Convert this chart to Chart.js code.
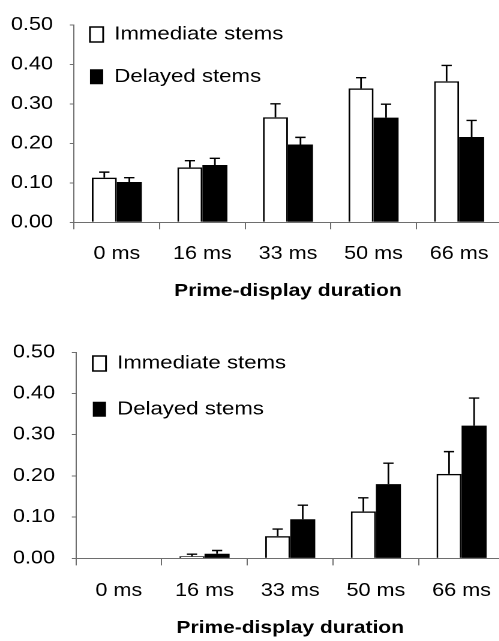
<!DOCTYPE html>
<html><head><meta charset="utf-8">
<script src="https://cdn.jsdelivr.net/npm/chart.js@4.4.1/dist/chart.umd.min.js"></script>
<style>
html,body{margin:0;padding:0;background:#fff;overflow:hidden;}
#wrap{width:499px;height:641px;overflow:hidden;position:relative;background:#fff;}
.panel{position:absolute;left:0;transform-origin:0 0;transform:scaleX(1.2);}
</style></head><body>
<div id="wrap">
<div class="panel" style="top:0;"><canvas id="c1" width="421" height="320"></canvas></div>
<div class="panel" style="top:320px;"><canvas id="c2" width="424" height="321"></canvas></div>
</div>
<script>
const categories = ['0 ms', '16 ms', '33 ms', '50 ms', '66 ms'];
const seriesNames = ['Immediate stems', 'Delayed stems'];
const yTickLabels = ['0.00', '0.10', '0.20', '0.30', '0.40', '0.50'];
const xTitle = 'Prime-display duration';

// Panel 1 (top)
const p1Immediate    = [0.113, 0.139, 0.266, 0.339, 0.357];
const p1ImmediateErr = [0.014, 0.017, 0.034, 0.027, 0.040];
const p1Delayed      = [0.102, 0.145, 0.197, 0.265, 0.216];
const p1DelayedErr   = [0.011, 0.017, 0.018, 0.034, 0.042];

// Panel 2 (bottom)
const p2Immediate    = [0, 0.005, 0.054, 0.114, 0.205];
const p2ImmediateErr = [0, 0.005, 0.017, 0.033, 0.054];
const p2Delayed      = [0, 0.011, 0.095, 0.180, 0.322];
const p2DelayedErr   = [0, 0.008, 0.034, 0.051, 0.067];

const F = "'Liberation Sans', Arial, Helvetica, sans-serif";
const AX = '#6e6e6e';

const errorBars = {
  id: 'errorBars',
  afterDatasetsDraw(chart) {
    const ctx = chart.ctx, ys = chart.scales.y;
    chart.data.datasets.forEach((ds, di) => {
      const meta = chart.getDatasetMeta(di);
      meta.data.forEach((bar, i) => {
        const e = ds.errorValues[i];
        if (!e) return;
        const v = ds.data[i];
        const y0 = ys.getPixelForValue(v), y1 = ys.getPixelForValue(v + e);
        ctx.save();
        ctx.strokeStyle = '#000';
        ctx.lineWidth = 1.4;
        ctx.beginPath();
        ctx.moveTo(bar.x, y0); ctx.lineTo(bar.x, y1);
        ctx.moveTo(bar.x - 4.3, y1); ctx.lineTo(bar.x + 4.3, y1);
        ctx.stroke();
        ctx.restore();
      });
    });
  }
};

const legendShift = {
  id: 'legendShift',
  afterLayout(chart, args, opts) {
    if (chart.legend) {
      chart.legend.left += opts.dx;
      chart.legend.top = opts.top;
    }
  }
};

function makeChart(id, imm, immErr, del, delErr, cfg) {
  return new Chart(document.getElementById(id), {
    type: 'bar',
    data: {
      labels: categories,
      datasets: [
        { label: seriesNames[0], data: imm, errorValues: immErr,
          backgroundColor: '#ffffff', borderColor: '#000000', borderWidth: 1.5 },
        { label: seriesNames[1], data: del, errorValues: delErr,
          backgroundColor: '#000000', borderColor: '#000000', borderWidth: 0 }
      ]
    },
    options: {
      responsive: false,
      animation: false,
      devicePixelRatio: 2,
      layout: { padding: { top: cfg.top, left: 0, right: cfg.right, bottom: 0 } },
      datasets: { bar: { categoryPercentage: 0.585, barPercentage: 1.0 } },
      scales: {
        x: {
          grid: { display: true, drawOnChartArea: false, drawTicks: true, tickLength: 7, color: AX, offset: true },
          border: { display: true, color: AX, width: 1 },
          ticks: { color: '#000', font: { family: F, size: 18 }, padding: cfg.xPad, maxRotation: 0, autoSkip: false },
          title: { display: true, text: xTitle, color: '#000',
                   font: { family: F, size: 17.5, weight: 'bold' }, padding: { top: 0, bottom: cfg.titlePad } },
          afterFit(s) { s.height = cfg.xH; }
        },
        y: {
          min: 0, max: 0.5,
          ticks: { stepSize: 0.1, color: '#000', font: { family: F, size: 18 }, padding: 14,
                   callback: (v, i) => yTickLabels[i] },
          grid: { drawOnChartArea: false, drawTicks: true, tickLength: 3.5, color: AX },
          border: { display: true, color: AX, width: 1 },
          afterFit(s) { s.width = cfg.yW; }
        }
      },
      plugins: {
        legend: {
          position: 'chartArea', align: 'start',
          labels: { boxWidth: 11, boxHeight: 15, padding: cfg.legPad, color: '#000',
                    font: { family: F, size: 18.5 } }
        },
        tooltip: { enabled: false },
        legendShift: { dx: cfg.dx, top: cfg.legTop }
      }
    },
    plugins: [errorBars, legendShift]
  });
}

makeChart('c1', p1Immediate, p1ImmediateErr, p1Delayed, p1DelayedErr,
  { top: 16, right: 2, yW: 61.67, xH: 97.7, xPad: 13.7, titlePad: 18.5, legPad: 23.8, dx: -10.5, legTop: 1.45 });
makeChart('c2', p2Immediate, p2ImmediateErr, p2Delayed, p2DelayedErr,
  { top: 32.33, right: 1.6, yW: 63.33, xH: 82.67, xPad: 14.7, titlePad: 2.5, legPad: 27.2, dx: -13.2, legTop: 7.05 });
</script>
</body></html>
